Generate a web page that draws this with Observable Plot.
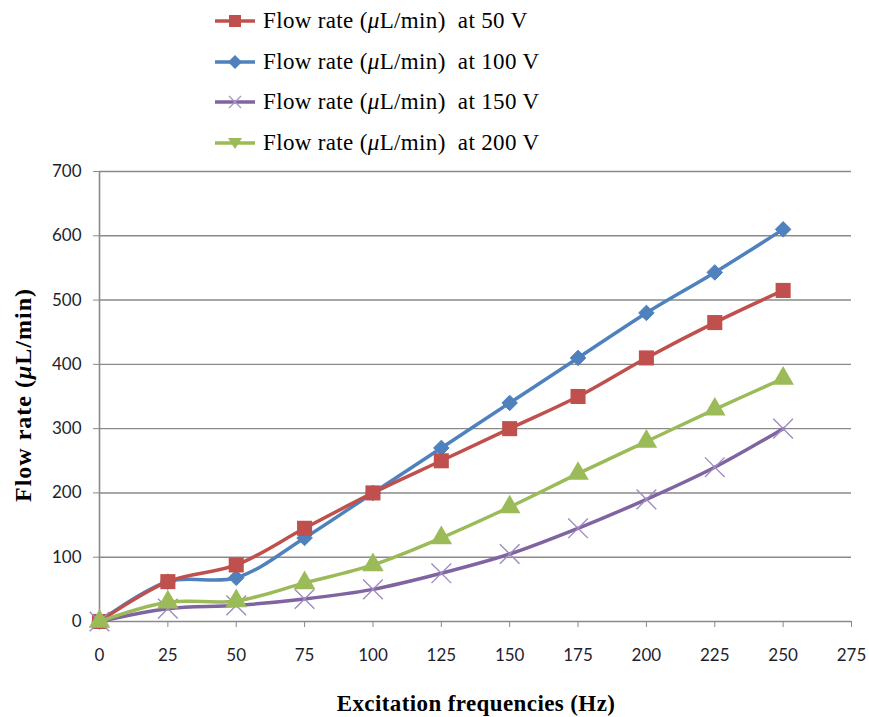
<!DOCTYPE html>
<html><head><meta charset="utf-8">
<script src="https://cdn.jsdelivr.net/npm/d3@7"></script>
<script src="https://cdn.jsdelivr.net/npm/@observablehq/plot@0.6"></script>
<style>
body{margin:0;background:#fff;}
#wrap{position:relative;width:869px;height:717px;overflow:hidden;}
#legend{position:absolute;left:0;top:0;width:869px;height:160px;}
.item{position:absolute;left:215px;height:30px;display:flex;align-items:center;font-family:"Liberation Serif",serif;font-size:23px;letter-spacing:0.35px;color:#000;white-space:pre;}
.item svg{margin-right:8px;}
#chart{position:absolute;left:0;top:160px;}
</style></head>
<body>
<div id="wrap"><div id="legend"></div><div id="chart"></div></div>
<script>
const freqs = [0, 25, 50, 75, 100, 125, 150, 175, 200, 225, 250];
const flow50V  = [0, 62, 88, 145, 200, 250, 300, 350, 410, 465, 515];
const flow100V = [0, 62, 68, 130, 200, 270, 340, 410, 480, 543, 610];
const flow150V = [0, 20, 25, 35, 50, 75, 105, 145, 190, 240, 300];
const flow200V = [0, 30, 32, 60, 88, 130, 178, 230, 280, 330, 378];
const seriesLabels = ["50 V", "100 V", "150 V", "200 V"];
const xTicks = [0, 25, 50, 75, 100, 125, 150, 175, 200, 225, 250, 275];
const yTicks = [0, 100, 200, 300, 400, 500, 600, 700];
const colors = ["#C0504D", "#4F81BD", "#8064A2", "#9BBB59"];

const allSeries = [flow50V, flow100V, flow150V, flow200V];
const rows = [];
allSeries.forEach((vals, i) => vals.forEach((v, j) => rows.push({f: freqs[j], v, s: seriesLabels[i]})));
const of = s => rows.filter(d => d.s === s);

const gray = "#8a8a8a";
const plot = Plot.plot({
  width: 869, height: 557,
  marginTop: 11, marginLeft: 99, marginRight: 18, marginBottom: 96,
  style: {fontFamily: "Lato, sans-serif", fontSize: "17px", background: "transparent"},
  x: {domain: [0, 275]},
  y: {domain: [0, 700]},
  color: {domain: seriesLabels, range: colors},
  marks: [
    Plot.gridY(yTicks.slice(1), {stroke: gray, strokeOpacity: 1, strokeWidth: 1.4}),
    Plot.ruleY([0], {stroke: gray, strokeWidth: 1.6}),
    Plot.ruleX([0], {stroke: gray, strokeWidth: 1.6}),
    Plot.axisY({ticks: yTicks, tickSize: 6, tickPadding: 12, stroke: gray, fill: "#1e1e2e", label: null, fontSize: 17}),
    Plot.axisX({ticks: xTicks, tickSize: 6, tickPadding: 21, stroke: gray, fill: "#1e1e2e", label: null, fontSize: 17}),
    Plot.line(of("100 V"), {x: "f", y: "v", stroke: "s", strokeWidth: 3.5, curve: "catmull-rom"}),
    Plot.dot(of("100 V"), {x: "f", y: "v", symbol: "diamond2", fill: colors[1], stroke: colors[1], strokeWidth: 1, r: 7}),
    Plot.line(of("50 V"), {x: "f", y: "v", stroke: "s", strokeWidth: 3.5, curve: "catmull-rom"}),
    Plot.dot(of("50 V"), {x: "f", y: "v", symbol: "square", fill: colors[0], r: 8.5}),
    Plot.line(of("150 V"), {x: "f", y: "v", stroke: "s", strokeWidth: 3.5, curve: "catmull-rom"}),
    Plot.dot(of("150 V"), {x: "f", y: "v", symbol: "times", stroke: "#9F8BC0", strokeWidth: 1.4, r: 9}),
    Plot.line(of("200 V"), {x: "f", y: "v", stroke: "s", strokeWidth: 3.5, curve: "catmull-rom"}),
    Plot.dot(of("200 V"), {x: "f", y: "v", symbol: "triangle", fill: colors[3], r: 8})
  ]
});
document.getElementById("chart").appendChild(plot);

// axis titles
const svg = d3.select(plot);
const yt = svg.append("text")
  .attr("transform", "translate(23,235) rotate(-90)")
  .attr("text-anchor", "middle").attr("dy", "0.35em")
  .style("font-family", "'Liberation Serif', serif").style("font-size", "24px").style("letter-spacing", "1px")
  .style("font-weight", "bold").style("fill", "#000");
yt.append("tspan").text("Flow rate (");
yt.append("tspan").style("font-style", "italic").text("μ");
yt.append("tspan").text("L/min)");
svg.append("text")
  .attr("x", 476).attr("y", 543).attr("dy", "0.35em")
  .attr("text-anchor", "middle")
  .style("font-family", "'Liberation Serif', serif").style("font-size", "23px").style("letter-spacing", "0.4px")
  .style("font-weight", "bold").style("fill", "#000")
  .text("Excitation frequencies (Hz)");

// legend
const legend = document.getElementById("legend");
const markerSvg = [
  c => `<rect x="14" y="4" width="12" height="12" fill="${c}"/>`,
  c => `<path d="M20 3 L27 10 L20 17 L13 10 Z" fill="${c}"/>`,
  c => `<path d="M14 4 L26 16 M26 4 L14 16" stroke="#A996C6" stroke-width="1.3"/>`,
  c => `<path d="M13 5 L27 5 L20 16 Z" fill="${c}"/>`
];
seriesLabels.forEach((lab, k) => {
  const div = document.createElement("div");
  div.className = "item";
  div.style.top = (6 + k * 40.5) + "px";
  div.innerHTML = `<svg width="40" height="20"><line x1="0" x2="40" y1="10" y2="10" stroke="${colors[k]}" stroke-width="3.5"/>${markerSvg[k](colors[k])}</svg>` +
    `<span>Flow rate (<i>μ</i>L/min)  at ${lab}</span>`;
  legend.appendChild(div);
});
</script>
</body></html>
